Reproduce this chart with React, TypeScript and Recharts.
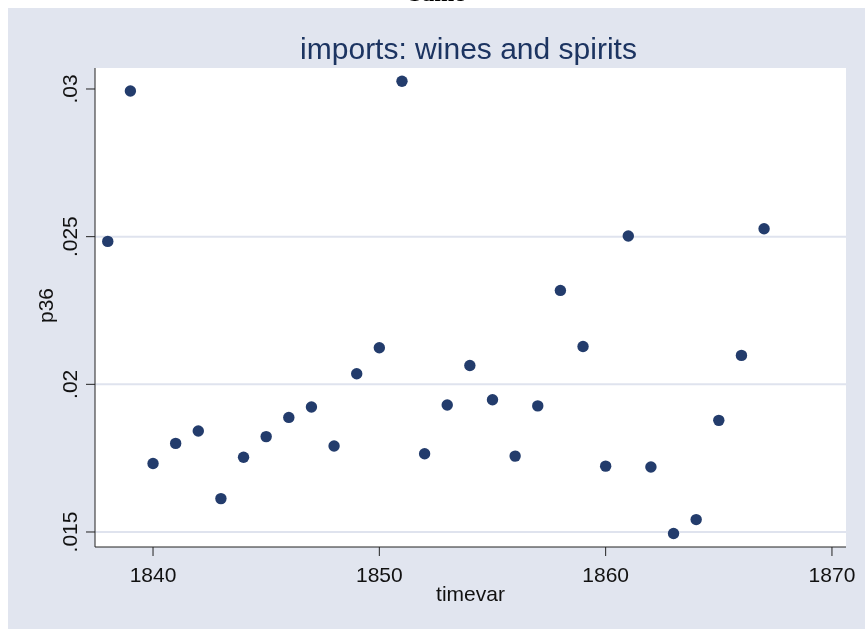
import React from 'react';
import {
  ScatterChart,
  Scatter,
  XAxis,
  YAxis,
  CartesianGrid,
  ReferenceLine,
  Label,
} from 'recharts';

// p36 by year
const years = [
  1838, 1839, 1840, 1841, 1842, 1843, 1844, 1845, 1846, 1847,
  1848, 1849, 1850, 1851, 1852, 1853, 1854, 1855, 1856, 1857,
  1858, 1859, 1860, 1861, 1862, 1863, 1864, 1865, 1866, 1867,
];
const p36 = [
  0.02484, 0.02993, 0.01732, 0.018, 0.01842, 0.01613, 0.01753, 0.01823, 0.01888, 0.01923,
  0.01791, 0.02036, 0.02124, 0.03026, 0.01765, 0.0193, 0.02064, 0.01948, 0.01757, 0.01927,
  0.02318, 0.02128, 0.01723, 0.02502, 0.0172, 0.01495, 0.01542, 0.01878, 0.02098, 0.02527,
];
const xTicks = [1840, 1850, 1860, 1870];
const yTicks = [0.015, 0.02, 0.025, 0.03];
const yLabels = ['.015', '.02', '.025', '.03'];
const gridValues = [0.015, 0.02, 0.025];

const data = years.map((y, i) => ({ timevar: y, p36: p36[i] }));

const FONT = '"Liberation Sans", Arial, sans-serif';
const NAVY = '#233c6c';
const BG = '#e1e5ef';

const XTick = (props: any) => {
  const { x, y, payload } = props;
  return (
    <text x={x} y={y + 26} textAnchor="middle" fontFamily={FONT} fontSize={21} fill="#111">
      {payload.value}
    </text>
  );
};

const YTick = (props: any) => {
  const { x, y, payload } = props;
  const i = yTicks.indexOf(payload.value);
  const bx = x - 9;
  return (
    <text
      x={bx}
      y={y}
      transform={`rotate(-90, ${bx}, ${y})`}
      textAnchor="middle"
      fontFamily={FONT}
      fontSize={21}
      fill="#111"
    >
      {i >= 0 ? yLabels[i] : payload.value}
    </text>
  );
};

const Dot = (props: any) => <circle cx={props.cx} cy={props.cy} r={5.7} fill={NAVY} />;

export default function App() {
  return (
    <div style={{ width: 857, height: 613 }}>
      <style>{'html{overflow:hidden}'}</style>
      <div
        style={{
          position: 'fixed',
          top: -19,
          left: 437,
          transform: 'translateX(-50%)',
          fontSize: 24,
          lineHeight: '24px',
          fontWeight: 'bold',
          whiteSpace: 'nowrap',
        }}
      >
        Same
      </div>
      <div style={{ position: 'fixed', left: 8, top: 8, width: 857, height: 621, background: BG }}>
        <div
          style={{
            position: 'absolute',
            top: 26,
            left: 460.5,
            transform: 'translateX(-50%)',
            fontFamily: FONT,
            fontSize: 30,
            lineHeight: '30px',
            color: '#1c3461',
            whiteSpace: 'nowrap',
          }}
        >
          imports: wines and spirits
        </div>
        <ScatterChart
          width={857}
          height={621}
          margin={{ top: 60, right: 19, bottom: 22, left: 0 }}
        >
          <CartesianGrid fill="#ffffff" horizontal={false} vertical={false} stroke="none" />
          {gridValues.map((v) => (
            <ReferenceLine key={v} y={v} stroke="#dfe3ee" strokeWidth={2} />
          ))}
          <XAxis
            dataKey="timevar"
            type="number"
            domain={[1837.436, 1870.62]}
            ticks={xTicks}
            allowDataOverflow
            height={60}
            tickSize={9}
            tickMargin={0}
            tick={<XTick />}
            axisLine={{ stroke: '#222', strokeWidth: 1 }}
            tickLine={{ stroke: '#222', strokeWidth: 1 }}
          >
            <Label
              content={(p: any) => {
                const vb = p.viewBox;
                return (
                  <text
                    x={vb.x + vb.width / 2}
                    y={vb.y + 54}
                    textAnchor="middle"
                    fontFamily={FONT}
                    fontSize={21}
                    fill="#111"
                  >
                    timevar
                  </text>
                );
              }}
            />
          </XAxis>
          <YAxis
            dataKey="p36"
            type="number"
            domain={[0.014492, 0.030711]}
            ticks={yTicks}
            allowDataOverflow
            width={87}
            tickSize={9}
            tickMargin={0}
            tick={<YTick />}
            axisLine={{ stroke: '#222', strokeWidth: 1 }}
            tickLine={{ stroke: '#222', strokeWidth: 1 }}
          >
            <Label
              content={(p: any) => {
                const vb = p.viewBox;
                const cx = 45;
                const cy = vb.y + vb.height / 2 - 2;
                return (
                  <text
                    x={cx}
                    y={cy}
                    transform={`rotate(-90, ${cx}, ${cy})`}
                    textAnchor="middle"
                    fontFamily={FONT}
                    fontSize={21}
                    fill="#111"
                  >
                    p36
                  </text>
                );
              }}
            />
          </YAxis>
          <Scatter data={data} fill={NAVY} shape={<Dot />} isAnimationActive={false} />
        </ScatterChart>
      </div>
    </div>
  );
}
